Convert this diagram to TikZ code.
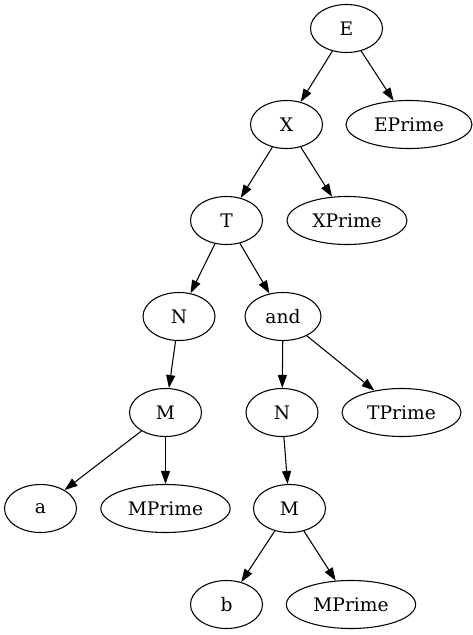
\documentclass[tikz,border=0pt]{standalone}
\usepackage{fontspec}
\setmainfont{DejaVu Serif}
\usetikzlibrary{shapes.geometric,arrows.meta}
\tikzset{
  nd/.style={draw, ellipse, line width=0.8pt, inner sep=0pt, minimum width=54pt, minimum height=36pt, font=\fontsize{14pt}{16pt}\selectfont},
  edge/.style={-{Triangle[length=9.75pt,width=6.75pt]}, line width=0.8pt}
}
\begin{document}
\begin{tikzpicture}[x=0.75pt,y=-0.75pt]
\useasboundingbox (0,0) rectangle (473,635);
\node[nd] (E) at (346.5,28.5) {E};
\node[nd] (X) at (286.5,124.5) {X};
\node[nd, minimum width=94.5pt] (EP) at (409,124.5) {EPrime};
\node[nd] (T) at (226.5,220.5) {T};
\node[nd, minimum width=90pt] (XP) at (347,220.5) {XPrime};
\node[nd] (NL) at (179,316.5) {N};
\node[nd, minimum width=57pt] (and) at (283,316.5) {and};
\node[nd] (ML) at (165.5,412.5) {M};
\node[nd] (NR) at (282,412.5) {N};
\node[nd, minimum width=89.25pt] (TP) at (401.5,412.5) {TPrime};
\node[nd] (a) at (40.5,508.5) {a};
\node[nd, minimum width=97pt] (MPL) at (165.5,508.5) {MPrime};
\node[nd] (MR) at (289.5,508.5) {M};
\node[nd] (b) at (226.5,604.5) {b};
\node[nd, minimum width=97pt] (MPR) at (351,604.5) {MPrime};
\draw[edge] (E) -- (X);
\draw[edge] (E) -- (EP);
\draw[edge] (X) -- (T);
\draw[edge] (X) -- (XP);
\draw[edge] (T) -- (NL);
\draw[edge] (T) -- (and);
\draw[edge] (NL) -- (ML);
\draw[edge] (and) -- (NR);
\draw[edge] (and) -- (TP);
\draw[edge] (ML) -- (a);
\draw[edge] (ML) -- (MPL);
\draw[edge] (NR) -- (MR);
\draw[edge] (MR) -- (b);
\draw[edge] (MR) -- (MPR);
\end{tikzpicture}
\end{document}
